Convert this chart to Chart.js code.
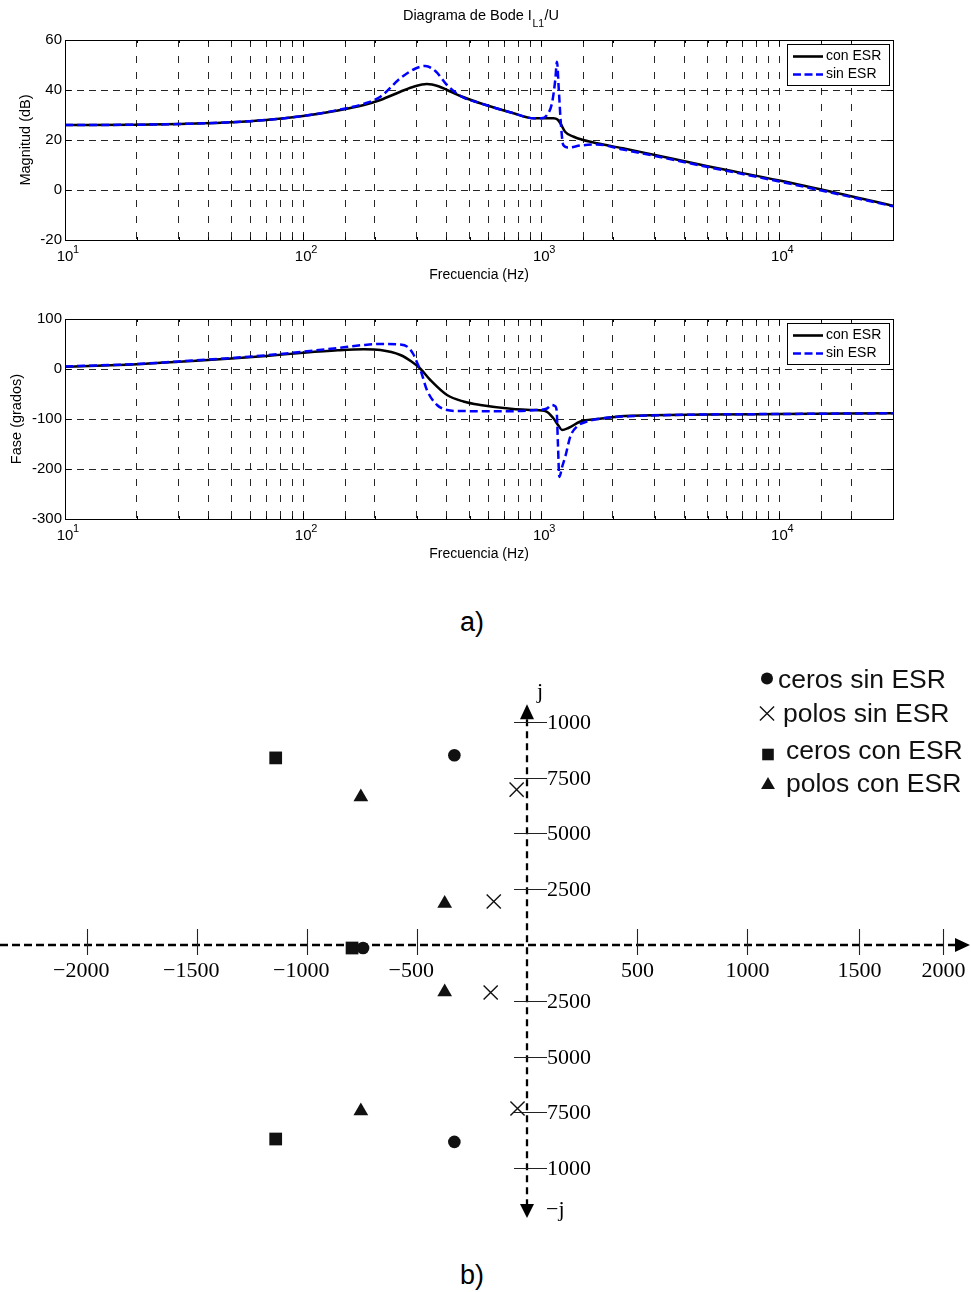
<!DOCTYPE html>
<html><head><meta charset="utf-8">
<script src="https://cdn.jsdelivr.net/npm/chart.js@4.4.0/dist/chart.umd.min.js"></script>
<style>
html,body{margin:0;padding:0;background:#fff;}
body{width:971px;height:1292px;position:relative;overflow:hidden;font-family:"Liberation Sans",Arial,sans-serif;}
.box{position:absolute;left:0;width:971px;}
.lbl{position:absolute;width:100px;text-align:center;font-size:27px;line-height:30px;color:#000;}
</style></head><body>
<div class="box" style="top:0;height:290px"><canvas id="mag"></canvas></div>
<div class="box" style="top:279px;height:290px"><canvas id="fase"></canvas></div>
<div class="lbl" style="left:422px;top:607px">a)</div>
<div class="box" style="top:640px;height:610px"><canvas id="pz"></canvas></div>
<div class="lbl" style="left:422px;top:1260px">b)</div>
<script>
// ---------- DATA ----------
const seriesNames = ['con ESR', 'sin ESR'];

// Magnitud (dB)
const magFreqCon = [10, 20, 30, 50, 70, 100, 140, 180, 211, 256, 295, 331, 370, 402, 460, 555, 765, 929, 1127, 1170, 1203, 1259, 1368, 1500, 1714, 2200, 3000, 5000, 10000, 20000, 30000];
const magCon     = [26, 26.1, 26.4, 27.1, 28, 29.6, 31.8, 34, 36, 39.3, 41.5, 42.4, 41.5, 40, 37.5, 34.7, 30.7, 28.7, 28.7, 28.2, 26.7, 23.3, 21.3, 20, 18.7, 16.7, 14, 9.5, 3.8, -2.5, -6.3];
const magFreqSin = [10, 20, 30, 50, 70, 100, 140, 180, 211, 256, 295, 326, 360, 402, 460, 555, 765, 929, 1000, 1057, 1109, 1145, 1164, 1185, 1210, 1237, 1300, 1460, 1714, 2200, 3000, 5000, 10000, 20000, 30000];
const magSin     = [26, 26.1, 26.4, 27.1, 28, 29.6, 32, 34.5, 37.3, 44.7, 48.5, 49.6, 47.5, 42, 37.5, 34.7, 30.7, 28.7, 28.7, 30, 34.7, 44, 51.3, 40, 26, 18, 17, 17.8, 18.2, 16.2, 13.6, 9.2, 3.4, -2.8, -6.5];

// Fase (grados)
const phFreqCon = [10, 20, 30, 50, 70, 100, 140, 180, 211, 256, 285, 310, 342, 402, 471, 555, 762, 925, 1050, 1122, 1180, 1222, 1300, 1460, 1714, 2250, 5000, 10000, 30000];
const phCon     = [4.5, 9.5, 14.5, 21, 26, 32.5, 37.5, 39.5, 38, 28, 15, 1, -22, -52, -65, -72, -80, -82, -85, -98, -113, -122, -118, -105, -100, -94, -91, -90, -88.5];
const phFreqSin = [10, 20, 30, 50, 70, 100, 140, 180, 211, 256, 275, 290, 304, 313, 331, 365, 402, 450, 700, 959, 1057, 1109, 1140, 1160, 1175, 1191, 1225, 1262, 1325, 1413, 1556, 1770, 2500, 5000, 10000, 30000];
const phSin     = [5, 10, 15, 22, 27.5, 34.5, 42, 48, 50, 49, 44, 30, 8, -6, -42, -72, -82, -84, -84.5, -82, -79, -72, -74, -82, -150, -216, -195, -175, -135, -115, -105, -99, -94, -91, -90, -88.5];

// Axis tick settings
const magTicks = {min: -20, max: 60, step: 20};
const phTicks  = {min: -300, max: 100, step: 100};
const freqRange = {min: 10, max: 30000};

// Pole-zero map (real, imaginary)
const pzCerosSin = [[-330, 8510], [-330, -8830], [-745, -135]];
const pzPolosSin = [[-47, 6970], [-151, 1950], [-165, -2130], [-43, -7330]];
const pzCerosCon = [[-1142, 8390], [-1142, -8700], [-795, -135]];
const pzPolosCon = [[-755, 6640], [-374, 1860], [-374, -2110], [-755, -7440]];
const pzLegend = ['ceros sin ESR', 'polos sin ESR', 'ceros con ESR', 'polos con ESR'];
const pzXTickVals   = [-2000, -1500, -1000, -500, 500, 1000, 1510, 1890];
const pzXTickLabels = ['\u22122000', '\u22121500', '\u22121000', '\u2212500', '500', '1000', '1500', '2000'];
const pzYTickVals   = [10000, 7500, 5000, 2500, -2500, -5000, -7500, -10000];
const pzYTickLabels = ['1000', '7500', '5000', '2500', '2500', '5000', '7500', '1000'];
const pzRange = {xmin: -2395, xmax: 2018, ymin: -13677, ymax: 13677, yAxisTop: 10800, yAxisBottom: -12240};

// ---------- CHARTS ----------
const SANS = '"Liberation Sans", Arial, sans-serif';
const SERIF = '"Liberation Serif", "Times New Roman", serif';
Chart.defaults.font.family = SANS;
Chart.defaults.color = '#000';

function toXY(xs, ys) { return xs.map((x, i) => ({x: x, y: ys[i]})); }
function isPow10(v) { const l = Math.log10(v); return Math.abs(l - Math.round(l)) < 1e-9; }

const bodeDecor = {
  id: 'bodeDecor',
  afterDraw(chart, args, opts) {
    const ctx = chart.ctx, a = chart.chartArea;
    const xs = chart.scales.x, ys = chart.scales.y;
    ctx.save();
    ctx.strokeStyle = '#000'; ctx.lineWidth = 1; ctx.setLineDash([]);
    xs.ticks.forEach(t => {
      const px = Math.round(xs.getPixelForValue(t.value)) + 0.5;
      const len = isPow10(t.value) ? 6 : 3;
      ctx.beginPath();
      ctx.moveTo(px, a.bottom); ctx.lineTo(px, a.bottom - len);
      ctx.moveTo(px, a.top); ctx.lineTo(px, a.top + len);
      ctx.stroke();
    });
    ys.ticks.forEach(t => {
      const py = Math.round(ys.getPixelForValue(t.value)) + 0.5;
      ctx.beginPath();
      ctx.moveTo(a.left, py); ctx.lineTo(a.left + 6, py);
      ctx.moveTo(a.right, py); ctx.lineTo(a.right - 6, py);
      ctx.stroke();
    });
    ctx.strokeRect(Math.round(a.left) + 0.5, Math.round(a.top) + 0.5, Math.round(a.right - a.left), Math.round(a.bottom - a.top));
    ctx.fillStyle = '#000';
    ctx.font = '11px ' + SANS;
    ctx.textAlign = 'left'; ctx.textBaseline = 'alphabetic';
    xs.ticks.forEach(t => {
      if (isPow10(t.value)) {
        const px = xs.getPixelForValue(t.value);
        ctx.fillText(String(Math.round(Math.log10(t.value))), px + 8, a.bottom + 13);
      }
    });
    const lx = a.right - 106, ly = a.top + 4, lw = 102, lh = 41;
    ctx.fillStyle = '#fff';
    ctx.fillRect(lx, ly, lw, lh);
    ctx.strokeStyle = '#000'; ctx.lineWidth = 1;
    ctx.strokeRect(lx + 0.5, ly + 0.5, lw, lh);
    ctx.lineWidth = 2.6;
    ctx.beginPath(); ctx.moveTo(lx + 6, ly + 12.5); ctx.lineTo(lx + 36, ly + 12.5); ctx.stroke();
    ctx.strokeStyle = '#0000ff'; ctx.setLineDash([8, 3.5]);
    ctx.beginPath(); ctx.moveTo(lx + 6, ly + 30.5); ctx.lineTo(lx + 36, ly + 30.5); ctx.stroke();
    ctx.setLineDash([]);
    ctx.fillStyle = '#000'; ctx.font = '14px ' + SANS; ctx.textBaseline = 'middle';
    ctx.fillText(seriesNames[0], lx + 39, ly + 12.5);
    ctx.fillText(seriesNames[1], lx + 39, ly + 30.5);
    if (opts && opts.title) {
      const f1 = '14.5px ' + SANS, f2 = '10.5px ' + SANS;
      ctx.font = f1; const w1 = ctx.measureText(opts.title[0]).width;
      const w3 = ctx.measureText(opts.title[2]).width;
      ctx.font = f2; const w2 = ctx.measureText(opts.title[1]).width;
      let x = 481 - (w1 + w2 + w3 + 1) / 2;
      ctx.textBaseline = 'alphabetic';
      ctx.font = f1; ctx.fillText(opts.title[0], x, 20); x += w1 + 0.5;
      ctx.font = f2; ctx.fillText(opts.title[1], x, 27); x += w2 + 0.5;
      ctx.font = f1; ctx.fillText(opts.title[2], x, 20);
    }
    ctx.restore();
  }
};

function makeBode(id, fc, vc, fs, vs, yr, yTitle, yTitlePad, title) {
  return new Chart(document.getElementById(id), {
    type: 'line',
    data: {
      datasets: [
        {label: seriesNames[0], data: toXY(fc, vc), borderColor: '#000', borderWidth: 2.5, pointRadius: 0, cubicInterpolationMode: 'monotone', order: 2},
        {label: seriesNames[1], data: toXY(fs, vs), borderColor: '#0000ff', borderWidth: 2.5, borderDash: [8, 4], pointRadius: 0, cubicInterpolationMode: 'monotone', order: 1}
      ]
    },
    options: {
      responsive: true, maintainAspectRatio: false, animation: false,
      layout: {padding: {top: 40, right: 78, left: 0, bottom: 0}, autoPadding: false},
      plugins: {legend: {display: false}, tooltip: {enabled: false}, bodeDecor: {title: title}},
      scales: {
        x: {
          type: 'logarithmic', min: freqRange.min, max: freqRange.max,
          grid: {color: 'rgba(0,0,0,0.85)', lineWidth: 1, drawTicks: false},
          border: {display: false, dash: [7, 9]},
          ticks: {autoSkip: false, maxRotation: 0, minRotation: 0, padding: 8, font: {size: 15}, color: '#000',
                  callback: (v) => isPow10(v) ? '10' : ''},
          title: {display: true, text: 'Frecuencia (Hz)', font: {size: 14}, color: '#000', padding: {top: 0, bottom: 6}},
          afterFit: (s) => { s.height = 50; }
        },
        y: {
          min: yr.min, max: yr.max,
          grid: {color: 'rgba(0,0,0,0.85)', lineWidth: 1, drawTicks: false},
          border: {display: false, dash: [7, 5]},
          ticks: {stepSize: yr.step, padding: 3, font: {size: 15}, color: '#000'},
          title: {display: true, text: yTitle, font: {size: 14.5}, color: '#000', padding: {top: yTitlePad, bottom: 0}},
          afterFit: (s) => { s.width = 65; }
        }
      }
    },
    plugins: [bodeDecor]
  });
}

makeBode('mag', magFreqCon, magCon, magFreqSin, magSin, magTicks, 'Magnitud (dB)', 17.5, ['Diagrama de Bode I', 'L1', '/U']);
makeBode('fase', phFreqCon, phCon, phFreqSin, phSin, phTicks, 'Fase (grados)', 8, null);

// ---------- POLE-ZERO MAP ----------
function drawMarker(ctx, style, x, y, r) {
  ctx.beginPath();
  if (style === 'circle') { ctx.arc(x, y, r, 0, Math.PI * 2); ctx.fill(); }
  else if (style === 'rect') { const s = r * Math.SQRT1_2; ctx.rect(x - s, y - s, 2 * s, 2 * s); ctx.fill(); }
  else if (style === 'triangle') {
    ctx.moveTo(x, y - r); ctx.lineTo(x + r * 0.866, y + r * 0.5); ctx.lineTo(x - r * 0.866, y + r * 0.5); ctx.closePath(); ctx.fill();
  } else { const s = r * Math.SQRT1_2; ctx.moveTo(x - s, y - s); ctx.lineTo(x + s, y + s); ctx.moveTo(x + s, y - s); ctx.lineTo(x - s, y + s); ctx.stroke(); }
}

const pzDecor = {
  id: 'pzDecor',
  beforeDatasetsDraw(chart) {
    const ctx = chart.ctx, xs = chart.scales.x, ys = chart.scales.y, a = chart.chartArea;
    const x0 = Math.round(xs.getPixelForValue(0)), y0 = Math.round(ys.getPixelForValue(0));
    ctx.save();
    ctx.strokeStyle = '#000'; ctx.fillStyle = '#000';
    ctx.lineWidth = 2.3; ctx.setLineDash([8, 4]);
    const xEnd = a.right - 1;
    ctx.beginPath(); ctx.moveTo(a.left, y0); ctx.lineTo(xEnd - 14, y0); ctx.stroke();
    const yTop = ys.getPixelForValue(pzRange.yAxisTop), yBot = ys.getPixelForValue(pzRange.yAxisBottom);
    ctx.setLineDash([7, 5]);
    ctx.beginPath(); ctx.moveTo(x0, yTop + 15); ctx.lineTo(x0, yBot - 14); ctx.stroke();
    ctx.setLineDash([]);
    ctx.beginPath(); ctx.moveTo(xEnd, y0); ctx.lineTo(xEnd - 15, y0 - 7); ctx.lineTo(xEnd - 15, y0 + 7); ctx.closePath(); ctx.fill();
    ctx.beginPath(); ctx.moveTo(x0, yTop); ctx.lineTo(x0 - 7, yTop + 15); ctx.lineTo(x0 + 7, yTop + 15); ctx.closePath(); ctx.fill();
    ctx.beginPath(); ctx.moveTo(x0, yBot); ctx.lineTo(x0 - 7, yBot - 14); ctx.lineTo(x0 + 7, yBot - 14); ctx.closePath(); ctx.fill();
    ctx.lineWidth = 1.1; ctx.strokeStyle = '#222';
    ctx.font = '22px ' + SERIF;
    ctx.textBaseline = 'middle';
    pzXTickVals.forEach((v, i) => {
      const px = Math.round(xs.getPixelForValue(v)) + 0.5;
      ctx.beginPath(); ctx.moveTo(px, y0 - 16); ctx.lineTo(px, y0 + 10); ctx.stroke();
      const lab = pzXTickLabels[i];
      const neg = lab.charAt(0) === '\u2212';
      const wMinus = neg ? ctx.measureText('\u2212').width : 0;
      ctx.textAlign = 'center';
      ctx.fillText(lab, px - wMinus / 2, y0 + 26);
    });
    pzYTickVals.forEach((v, i) => {
      const py = Math.round(ys.getPixelForValue(v)) + 0.5;
      ctx.beginPath(); ctx.moveTo(x0 - 13, py); ctx.lineTo(x0 + 20, py); ctx.stroke();
      ctx.textAlign = 'left';
      ctx.fillText(pzYTickLabels[i], x0 + 20, py + 1);
    });
    ctx.textAlign = 'left';
    ctx.fillText('j', x0 + 10, yTop - 12);
    ctx.fillText('\u2212j', x0 + 19, yBot - 8);
    ctx.restore();
  },
  afterDatasetsDraw(chart) {
    const ctx = chart.ctx;
    ctx.save();
    ctx.fillStyle = '#111'; ctx.strokeStyle = '#111'; ctx.lineWidth = 1.4;
    const items = [
      {style: 'circle', r: 6, mx: 767, my: 38.5, tx: 778, ty: 48},
      {style: 'crossRot', r: 10, mx: 767, my: 73.5, tx: 783, ty: 82},
      {style: 'rect', r: 8.2, mx: 768, my: 114.5, tx: 786, ty: 119},
      {style: 'triangle', r: 8, mx: 768, my: 145, tx: 786, ty: 152}
    ];
    ctx.font = '26.5px ' + SANS; ctx.textAlign = 'left'; ctx.textBaseline = 'alphabetic';
    items.forEach((it, i) => {
      drawMarker(ctx, it.style, it.mx, it.my, it.r);
      ctx.fillText(pzLegend[i], it.tx, it.ty);
    });
    ctx.restore();
  }
};

function pzSet(label, pts, style, r, bw) {
  return {label: label, data: pts.map(p => ({x: p[0], y: p[1]})), showLine: false,
          pointStyle: style, pointRadius: r, pointHoverRadius: r,
          pointBackgroundColor: '#111', pointBorderColor: '#111', pointBorderWidth: bw};
}

new Chart(document.getElementById('pz'), {
  type: 'scatter',
  data: {
    datasets: [
      pzSet(pzLegend[0], pzCerosSin, 'circle', 6.3, 0),
      pzSet(pzLegend[1], pzPolosSin, 'crossRot', 10, 1.4),
      pzSet(pzLegend[2], pzCerosCon, 'rect', 9, 0),
      pzSet(pzLegend[3], pzPolosCon, 'triangle', 8.5, 0)
    ]
  },
  options: {
    responsive: true, maintainAspectRatio: false, animation: false,
    layout: {padding: 0, autoPadding: false},
    plugins: {legend: {display: false}, tooltip: {enabled: false}},
    scales: {
      x: {type: 'linear', display: false, min: pzRange.xmin, max: pzRange.xmax},
      y: {type: 'linear', display: false, min: pzRange.ymin, max: pzRange.ymax}
    }
  },
  plugins: [pzDecor]
});
</script>
</body></html>
